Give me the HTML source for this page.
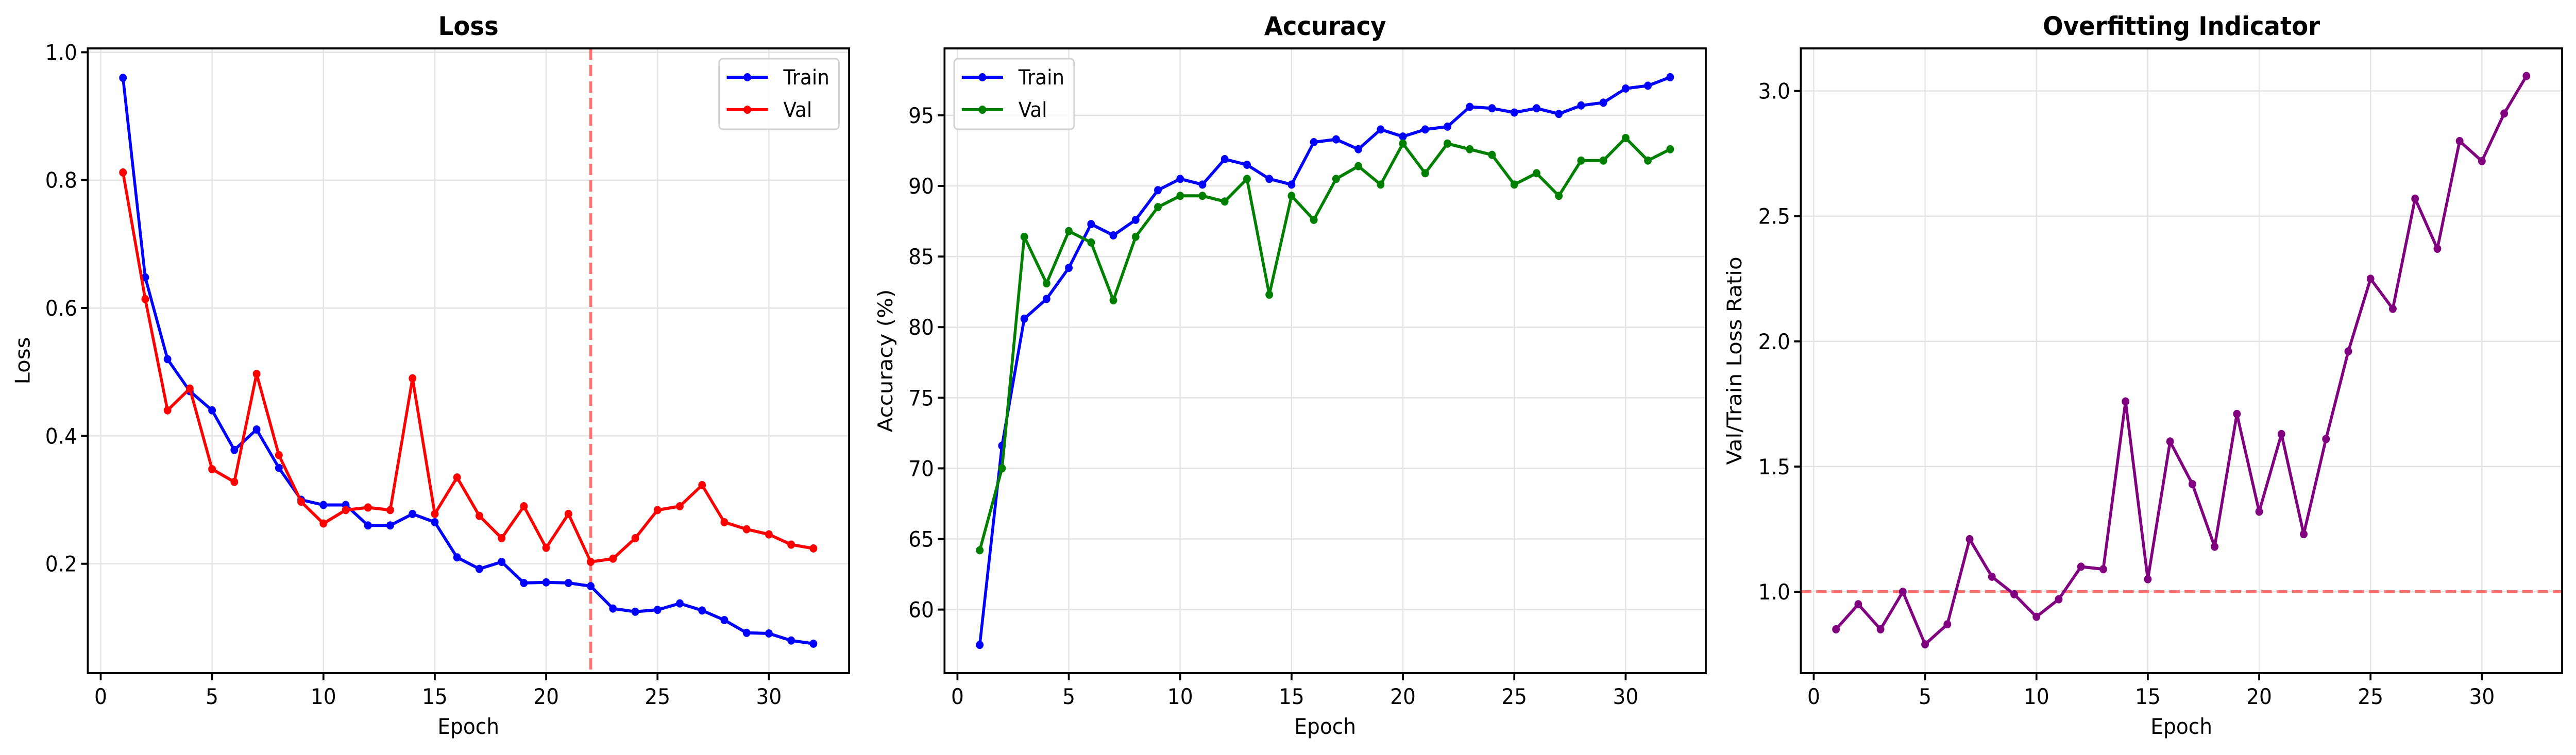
<!DOCTYPE html>
<html><head><meta charset="utf-8">
<style>
html,body{margin:0;padding:0;background:#fff;overflow:hidden;width:100%;height:100%;}
svg{display:block;font-family:"DejaVu Sans","Liberation Sans",sans-serif;width:100vw;height:100vh;}
</style></head>
<body>
<svg id="chart" viewBox="0 0 5370 1466" preserveAspectRatio="none" xmlns="http://www.w3.org/2000/svg"></svg>
<script>
const epochs = [1,2,3,4,5,6,7,8,9,10,11,12,13,14,15,16,17,18,19,20,21,22,23,24,25,26,27,28,29,30,31,32];
const lossTrain = [0.96,0.648,0.52,0.47,0.44,0.378,0.41,0.35,0.30,0.292,0.292,0.26,0.26,0.278,0.265,0.21,0.192,0.203,0.17,0.171,0.17,0.165,0.13,0.125,0.128,0.138,0.127,0.112,0.092,0.091,0.08,0.075];
const lossVal = [0.812,0.614,0.44,0.474,0.348,0.328,0.497,0.37,0.297,0.263,0.284,0.288,0.284,0.49,0.278,0.335,0.275,0.24,0.29,0.225,0.278,0.203,0.208,0.24,0.284,0.29,0.323,0.265,0.254,0.246,0.23,0.224];
const accTrain = [57.5,71.6,80.6,82.0,84.2,87.3,86.5,87.6,89.7,90.5,90.1,91.9,91.5,90.5,90.1,93.1,93.3,92.6,94.0,93.5,94.0,94.2,95.6,95.5,95.2,95.5,95.1,95.7,95.9,96.9,97.1,97.7];
const accVal = [64.2,70.0,86.4,83.1,86.8,86.0,81.9,86.4,88.5,89.3,89.3,88.9,90.5,82.3,89.3,87.6,90.5,91.4,90.1,93.0,90.9,93.0,92.6,92.2,90.1,90.9,89.3,91.8,91.8,93.4,91.8,92.6];
const ratio = [0.85,0.95,0.85,1.0,0.79,0.87,1.21,1.06,0.99,0.90,0.97,1.10,1.09,1.76,1.05,1.60,1.43,1.18,1.71,1.32,1.63,1.23,1.61,1.96,2.25,2.13,2.57,2.37,2.80,2.72,2.91,3.06];
const xTicks = [0,5,10,15,20,25,30];
const lossTicks = [0.2,0.4,0.6,0.8,1.0];
const accTicks = [60,65,70,75,80,85,90,95];
const ratioTicks = [1.0,1.5,2.0,2.5,3.0];
const bestEpoch = 22;
const ratioRef = 1.0;

const NS="http://www.w3.org/2000/svg";
const svg=document.getElementById('chart');
function mk(tag,attrs,parent){const e=document.createElementNS(NS,tag);for(const k in attrs)e.setAttribute(k,attrs[k]);(parent||svg).appendChild(e);return e;}

function panel(cfg){
  const g=mk('g',{});
  
  
  const L=cfg.left,R=cfg.left+1587,T=94,B=1307;
  const xs=v=>L+(v-(-0.58))/(33.6-(-0.58))*(R-L);
  const ys=v=>B-(v-cfg.ymin)/(cfg.ymax-cfg.ymin)*(B-T);
  xTicks.forEach(t=>{const l=mk('line',{x1:xs(t),x2:xs(t),y1:T,y2:B,stroke:'#e3e3e3','stroke-width':2.5},g);
    
    });
  cfg.yTicks.forEach(t=>{const l=mk('line',{x1:L,x2:R,y1:ys(t),y2:ys(t),stroke:'#e3e3e3','stroke-width':2.5},g);
    
    });
  if(cfg.vline!==undefined){const l=mk('line',{x1:xs(cfg.vline),x2:xs(cfg.vline),y1:T,y2:B,stroke:'#ff7070','stroke-width':6,'stroke-dasharray':'22 10'},g);
    
    }
  if(cfg.hline!==undefined){const l=mk('line',{x1:L,x2:R,y1:ys(cfg.hline),y2:ys(cfg.hline),stroke:'#ff7070','stroke-width':6,'stroke-dasharray':'22 10'},g);
    
    }
  cfg.series.forEach(s=>{
    const pts=s.data.map((v,i)=>xs(epochs[i]).toFixed(1)+','+ys(v).toFixed(1)).join(' ');
    const pl=mk('polyline',{points:pts,fill:'none',stroke:s.color,'stroke-width':6,'stroke-linejoin':'round'},g);
    
    
    s.data.forEach((v,i)=>{const c=mk('circle',{cx:xs(epochs[i]),cy:ys(v),r:8,fill:s.color},g);
      
      });
  });
  const fr=mk('rect',{x:L,y:T,width:R-L,height:B-T,fill:'none',stroke:'#000','stroke-width':4},g);
  
  
  xTicks.forEach(t=>{mk('line',{x1:xs(t),x2:xs(t),y1:B,y2:B+14,stroke:'#000','stroke-width':4},g);
    const tx=mk('text',{x:xs(t),y:B+60,'font-size':42,'text-anchor':'middle'},g);tx.textContent=t;
    
    });
  cfg.yTicks.forEach(t=>{mk('line',{x1:L-14,x2:L,y1:ys(t),y2:ys(t),stroke:'#000','stroke-width':4},g);
    const tx=mk('text',{x:L-22,y:ys(t)+15,'font-size':42,'text-anchor':'end'},g);tx.textContent=cfg.fmt(t);
    
    });
  const xl=mk('text',{x:(L+R)/2,y:1425,'font-size':42,'text-anchor':'middle'},g);xl.textContent='Epoch';
  
  
  const yl=mk('text',{x:0,y:0,'font-size':42,'text-anchor':'middle',transform:`translate(${cfg.ylx},${(T+B)/2}) rotate(-90)`},g);yl.textContent=cfg.ylabel;
  
  
  const ti=mk('text',{x:(L+R)/2,y:68,'font-size':50,'font-weight':'bold','text-anchor':'middle'},g);ti.textContent=cfg.title;
  
  
  if(cfg.legendX!==undefined){
    const lg=mk('g',{},g);
    
    
    mk('rect',{x:cfg.legendX,y:114,width:250,height:137,rx:8,fill:'#fff','fill-opacity':0.8,stroke:'#d0d0d0','stroke-width':3},lg);
    cfg.series.forEach((s,i)=>{
      const y=150+i*63;
      const e=mk('g',{},lg);
      
      
      mk('line',{x1:cfg.legendX+16,x2:cfg.legendX+102,y1:y,y2:y,stroke:s.color,'stroke-width':6},e);
      mk('circle',{cx:cfg.legendX+59,cy:y,r:8,fill:s.color},e);
      const t=mk('text',{x:cfg.legendX+134,y:y+14,'font-size':40},e);t.textContent=s.label;
    });
  }
}

panel({name:'loss-panel',left:183,ymin:0.029,ymax:1.006,yTicks:lossTicks,fmt:t=>t.toFixed(1),title:'Loss',ylabel:'Loss',ylx:62,vline:bestEpoch,
  legendX:1499,series:[{id:'loss-train',label:'Train',color:'#0000ff',data:lossTrain},{id:'loss-val',label:'Val',color:'#ff0000',data:lossVal}]});
panel({name:'accuracy-panel',left:1969,ymin:55.5,ymax:99.74,yTicks:accTicks,fmt:t=>String(t),title:'Accuracy',ylabel:'Accuracy (%)',ylx:1860,
  legendX:1989,series:[{id:'acc-train',label:'Train',color:'#0000ff',data:accTrain},{id:'acc-val',label:'Val',color:'#008000',data:accVal}]});
panel({name:'overfitting-panel',left:3754,ymin:0.675,ymax:3.17,yTicks:ratioTicks,fmt:t=>t.toFixed(1),title:'Overfitting Indicator',ylabel:'Val/Train Loss Ratio',ylx:3630,hline:ratioRef,
  series:[{id:'ratio',label:'Ratio',color:'#800080',data:ratio}]});
</script>
</body></html>
